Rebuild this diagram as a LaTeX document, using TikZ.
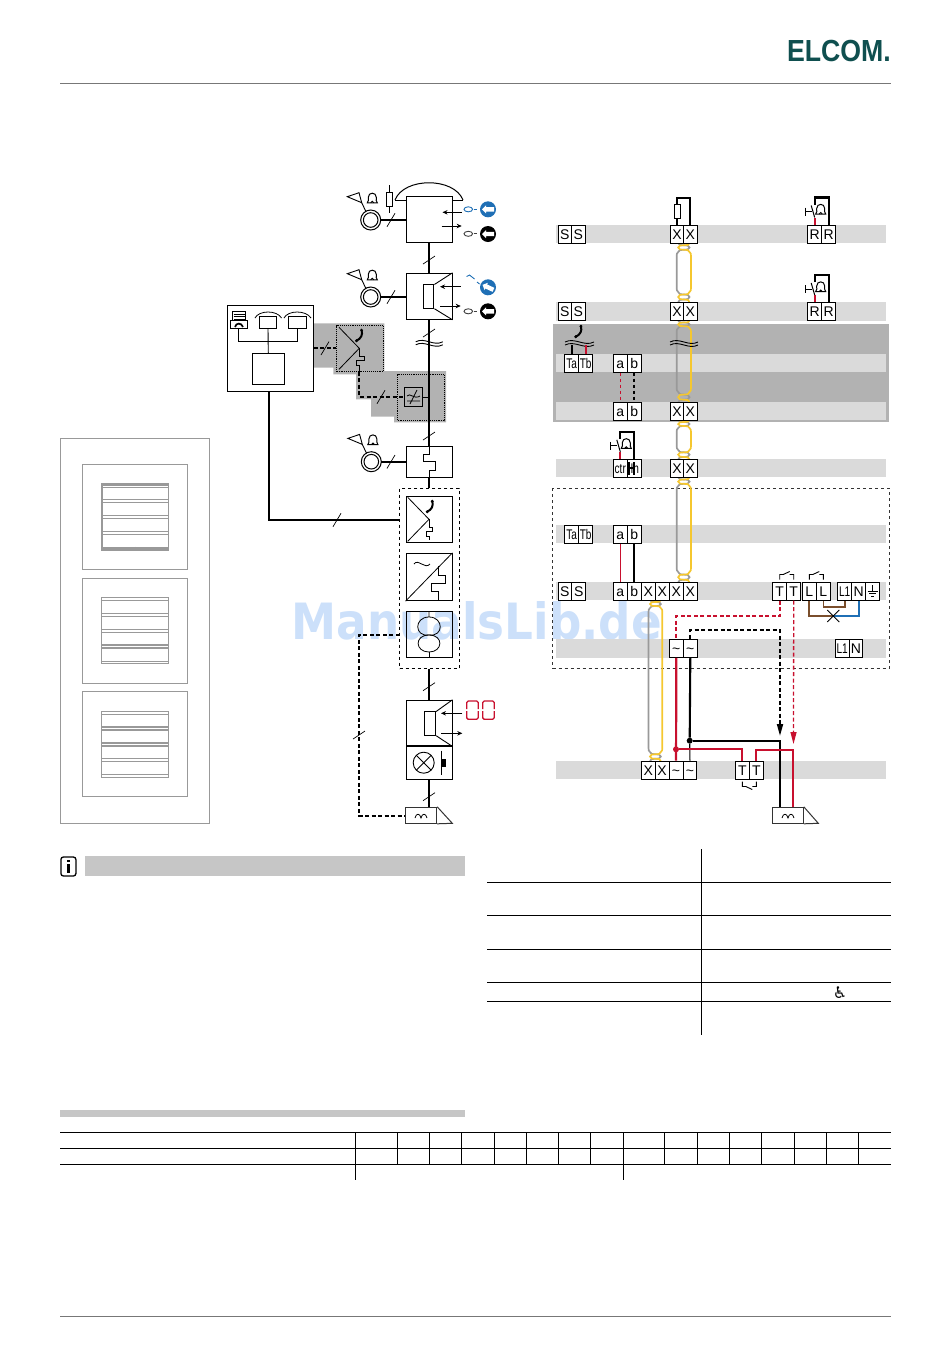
\documentclass[tikz,border=0pt]{standalone}
\usepackage{fontspec}
\setmainfont{Liberation Sans}
\newfontfamily\symfont{DejaVu Sans}
\usetikzlibrary{arrows.meta,calc}
\definecolor{band}{HTML}{DADADA}
\definecolor{dark}{HTML}{B2B2B2}
\definecolor{hdr}{HTML}{C6C6C6}
\definecolor{wred}{HTML}{C8102E}
\definecolor{wblue}{HTML}{1F6FB5}
\definecolor{wbrown}{HTML}{7A4E2C}
\definecolor{cyel}{HTML}{F5C72F}
\definecolor{cgray}{HTML}{999999}
\definecolor{teal}{HTML}{0F4F4F}
\definecolor{wm}{HTML}{CCE0FA}
\definecolor{pan}{HTML}{999999}
\definecolor{rule}{HTML}{777777}
\tikzset{
 x=1pt,y=-1pt,
 term/.style={draw=black,fill=white,line width=1,inner sep=0,minimum height=18,text height=10,text depth=0,font=\fontsize{14}{14}\selectfont},
 blk/.style={draw=black,fill=white,line width=1,inner sep=0,minimum width=46,minimum height=46},
 wire/.style={line width=2.1,black},
 thinw/.style={line width=.9,black},
 dashw/.style={line width=2,black,dash pattern=on 4pt off 2.5pt},
 thinarr/.style={line width=.9,-{Stealth[length=5,width=4.5]}},
 dotb/.style={draw=black,densely dotted,line width=.9,inner sep=0,fill=none},
 cross/.style={circle,fill=#1,inner sep=0,minimum size=6},
 pics/bell/.style={code={
   \draw[line width=1,fill=white] (-5,4.5) .. controls (-3.5,3.5) and (-4,1) .. (-4,-1) .. controls (-4,-6.5) and (4,-6.5) .. (4,-1) .. controls (4,1) and (3.5,3.5) .. (5,4.5) -- cycle;
   \draw[line width=.9] (-1.5,4.5) arc[start angle=180,end angle=360,radius=1.5];
 }},
 pics/phone/.style={code={
   \draw[line width=2,line cap=round] (1.6,-5.5) .. controls (3,-1) and (1,3) .. (-3.5,5);
   \fill (1.6,-5.5) circle (1.6);\fill (-3.5,5) circle (1.6);
 }},
 pics/ringhorn/.style={code={
   \draw[line width=1] (0,0) circle (10);
   \draw[line width=1] (0,0) circle (7.3);
   \draw[line width=.9] (-23.4,-23.3) -- (-11.7,-27.3) -- (-9,-17.3) -- cycle;
   \draw[line width=.9] (-9,-17.3) -- (-4.7,-8.3);
   \pic at (1.6,-21.7) {bell};
 }},
 pics/btn/.style={code={
   \fill[#1] (0,0) circle (8);
   \fill[white] (-6,0) -- (-2,-4) -- (-2,-2.2) -- (6,-2.2) -- (6,2.2) -- (-2,2.2) -- (-2,4) -- cycle;
 }},
 pics/bellsw/.style={code={
   \draw[line width=2,wred] (0,0) -- (0,-7);
   \draw[line width=1,black] (0,-7) -- (-3.5,-19);
   \draw[line width=1,black] (-9.5,-17) -- (-9.5,-9) (-9.5,-13) -- (-3,-13);
   \pic at (6,-15) {bell};
 }},
}
\newcommand{\trow}[5]{\foreach \tlab [count=\nn] in {#5} {\node[term,minimum width=#4] (#1\nn) at ({#2+(\nn-.5)*#4},#3) {\tlab};}}
\newcommand{\cnd}[1]{\scalebox{.72}[1]{#1}}
\newcommand{\slv}[2]{\draw[line width=.7] (#1-6,#2+4) -- (#1+6,#2-4);}
\newcommand{\slh}[2]{\draw[line width=.7] (#1-4,#2+6.7) -- (#1+4,#2-6.7);}
\newcommand{\wavy}[3]{\draw[line width=.9] (#1,#3-1.5) .. controls ({#1+(#2-#1)/3},#3-6.5) and ({#1+2*(#2-#1)/3},#3+3.5) .. (#2,#3-1.5);
 \draw[line width=.9] (#1,#3+1.5) .. controls ({#1+(#2-#1)/3},#3-3.5) and ({#1+2*(#2-#1)/3},#3+6.5) .. (#2,#3+1.5);}
\newcommand{\twist}[4]{\pgfmathsetmacro{\ymid}{(#3+#4)/2}
 \draw[line width=1.7,cgray] (#1,#3) .. controls (#1,\ymid) and (#2,#3) .. (#2,\ymid) .. controls (#2,#4) and (#1,\ymid) .. (#1,#4);
 \draw[line width=1.7,cyel] (#2,#3) .. controls (#2,\ymid) and (#1,#3) .. (#1,\ymid) .. controls (#1,#4) and (#2,\ymid) .. (#2,#4);}
\newcommand{\cable}[6]{\pgfmathsetmacro{\xli}{#1+1.5}\pgfmathsetmacro{\xri}{#2-1.5}
 \twist{\xli}{\xri}{#4}{#3}\twist{\xli}{\xri}{#5}{#6}
 \draw[line width=1.7,cgray] (\xli,#4) .. controls (#1,#4+1) and (#1,#4+2) .. (#1,#4+5) -- (#1,#5-5) .. controls (#1,#5-2) and (#1,#5-1) .. (\xli,#5);
 \draw[line width=1.7,cyel] (\xri,#4) .. controls (#2,#4+1) and (#2,#4+2) .. (#2,#4+5) -- (#2,#5-5) .. controls (#2,#5-2) and (#2,#5-1) .. (\xri,#5);}
\newcommand{\brk}[4]{\draw[line width=.9] (#1,#3) -- (#1,#3+#4*5) -- (#1+4,#3+#4*5) (#1+3.5,#3+#4*5) -- (#1+10,#3+#4*8) (#1+10,#3+#4*5) -- (#2,#3+#4*5) -- (#2,#3);}
\newcommand{\fade}[2]{\node[draw=pan,line width=1,fill=none,minimum width=105,minimum height=105,inner sep=0] (#1) at (134.8,#2) {};}
\begin{document}
\begin{tikzpicture}
\useasboundingbox (0,0) rectangle (950,1353);
% --- header/footer
\node[anchor=base east,inner sep=0,text=teal,font=\bfseries\fontsize{30.5}{31}\selectfont] (logo) at (891,61) {\scalebox{.875}[1]{ELCOM.}};
\draw[rule,line width=1] (60,83.5) -- (891,83.5);
\draw[rule,line width=1] (60,1316.5) -- (891,1316.5);
% --- watermark
\node[anchor=base west,inner sep=0,text=wm,font=\symfont\bfseries\fontsize{50}{50}\selectfont] (wmark) at (291.5,639) {\scalebox{.905}[1]{ManualsLib.de}};
% --- left panels
\node[draw=pan,line width=1,fill=none,minimum width=149.4,minimum height=384.6,inner sep=0] (frame) at (135,631) {};
\fade{p1}{516.8}\fade{p2}{630.8}\fade{p3}{743.8}
\node[draw=pan,line width=1.6,minimum width=66.6,minimum height=66.3,inner sep=0] (q1) at (135,516.8) {};
\node[draw=pan,line width=1,minimum width=66.6,minimum height=65.6,inner sep=0] (q2) at (135,630.5) {};
\node[draw=pan,line width=1,minimum width=66.6,minimum height=66.4,inner sep=0] (q3) at (135,744.5) {};
\foreach \yy in {487,499.3,502.3,515.3,518.3,531.7,534.3} \draw[pan,line width=1] (101.7,\yy) -- (168.3,\yy);
\foreach \yy in {485,548.5} \draw[pan,line width=2.2] (101.7,\yy) -- (168.3,\yy);
\foreach \yy in {600.3,613.7,616.3,629.7,632.3} \draw[pan,line width=1] (101.7,\yy) -- (168.3,\yy);
\foreach \yy in {645,648.3,661.5} \draw[pan,line width=1.8] (101.7,\yy) -- (168.3,\yy);
\foreach \yy in {714,758.7,761.3,774.7} \draw[pan,line width=1] (101.7,\yy) -- (168.3,\yy);
\foreach \yy in {726.7,730,742.7,746} \draw[pan,line width=1.8] (101.7,\yy) -- (168.3,\yy);
\draw[pan,line width=1] (135,546.5) -- (135,548);
% --- grey zone, left diagram
\fill[dark] (314,323.3) -- (384.3,323.3) -- (384.3,371) -- (446,371) -- (446,422.3) -- (394,422.3) -- (394,416.7) -- (371,416.7) -- (371,399.3) -- (356,399.3) -- (356,374.3) -- (333.3,374.3) -- (333.3,367.7) -- (314,367.7) -- cycle;
\node[dotb,minimum width=46.6,minimum height=46] (dA) at (360,348.7) {};
\node[dotb,minimum width=46.3,minimum height=46.7] (dB) at (420.8,397.4) {};
% --- left diagram boxes
\node[blk] (boxA) at (429,219.3) {};
\node[blk] (boxB) at (429,296.3) {};
\node[blk,minimum height=31] (boxD) at (429,461.8) {};
\node[draw=black,dashed,line width=1,inner sep=0,minimum width=59.6,minimum height=180.4] (dbox) at (429.5,578.5) {};
\node[blk] (boxE) at (429,519.3) {};
\node[blk,minimum height=47.4] (boxF) at (429,577) {};
\node[blk,fill=none] (boxG) at (429,634.5) {};
\node[blk,minimum height=45.7] (boxH) at (429,723.1) {};
\node[blk,minimum height=33.3] (boxI) at (429,762.7) {};
\node[draw=black!80,line width=1,fill=white,inner sep=0,minimum width=31,minimum height=16] (panL) at (421.2,815.3) {};
\draw[line width=1,black!80] (panL.north east) -- (452.3,823.3) -- (panL.south east);
\draw[line width=.8] (415,818) .. controls (416,813) and (420,813) .. (421,818) .. controls (422,813) and (426,813) .. (427,818);
\node[blk,minimum width=86,minimum height=85.6] (boxC) at (270.3,348.5) {};
\node[draw=black,line width=1,inner sep=0,minimum width=32,minimum height=31] (boxC0) at (268.3,368.8) {};
\node[draw=black,line width=1,inner sep=0,minimum width=17.4,minimum height=11.6] (boxC1) at (268,322.5) {};
\node[draw=black,line width=1,inner sep=0,minimum width=18.4,minimum height=11.6] (boxC2) at (297.5,322.5) {};
\node[draw=black,line width=1,inner sep=0,fill=white,minimum width=13.4,minimum height=9] (faxp) at (239,316.2) {};
\node[draw=black,line width=1,inner sep=0,fill=white,minimum width=17.7,minimum height=7.6] (faxb) at (238.9,324.5) {};
\draw[line width=.7] (233.5,314) -- (244.5,314) (233.5,316.5) -- (244.5,316.5) (233.5,319) -- (244.5,319);
\draw[line width=1.7] (235,327) .. controls (236,322.5) and (241.5,322.5) .. (243,327);
\draw[line width=.8] (255,318) .. controls (259,310) and (277,310) .. (281.5,318) (284,318) .. controls (288,310) and (306,310) .. (311,318);
\draw[line width=.9] (faxb.south) -- ++(0,12.5) -| (boxC2.south);
\draw[line width=.9] (boxC1.south) -- (boxC0.north);
\coordinate (cbot) at (269,391.3);
\coordinate (cE) at (399.7,520);
\draw[wire] (cbot) |- (cE);
\slh{337}{520}
% spine
\draw[wire] (boxA.south) -- (boxB.north);
\draw[wire] (boxB.south) -- (boxD.north);
\draw[wire] (boxD.south) -- (dbox.north -| boxD.south);
\draw[wire] (dbox.south -| boxH.north) -- (boxH.north);
\draw[wire] (boxI.south) -- (boxI.south |- panL.north);
\slv{429}{260}\slv{429}{333}\slv{429}{436}\slv{429}{686.7}\slv{429}{796.7}
\wavy{415.7}{442.7}{343.3}
% box A details
\node[draw=black,line width=.9,fill=white,inner sep=0,minimum width=6,minimum height=14.4] (resA) at (389.3,199.5) {};
\coordinate (resT) at (389.3,185);\coordinate (resB) at (389.3,213);
\draw[line width=.9] (resT) -- (resA.north) (resA.south) -- (resB);
\draw[line width=1] (395,200) .. controls (404,177) and (454,177) .. (463,200);
\draw[line width=1] (395,200) -- (boxA.west |- 0,200) (boxA.east |- 0,200) -- (463,200);
\draw[thinarr] (461.7,212.3) -- (442.5,212.3);
\draw[thinarr] (441.7,226) -- (461.7,226);
% rings
\pic at (370.7,220) {ringhorn};
\pic at (370.7,297) {ringhorn};
\pic at (371.3,461.7) {ringhorn};
\draw[wire] (380.7,220) -- (boxA.west |- 0,220);
\draw[wire] (380.7,297) -- (boxB.west |- 0,297);
\draw[wire] (381.3,461.7) -- (boxD.west |- 0,461.7);
\slh{391}{220}\slh{391}{297}\slh{391}{461.7}
% buttons
\pic at (488,209.3) {btn=wblue};
\pic at (488,234) {btn=black};
\pic[rotate=-25] at (488,287.3) {btn=wblue};
\pic at (488,311.3) {btn=black};
\draw[wblue,line width=.9] (468.3,209.3) ellipse (4.3 and 2.5);
\draw[black!75,line width=.9] (468.3,233.8) ellipse (4.3 and 2.5);
\draw[black!75,line width=.9] (468.3,311.3) ellipse (4.3 and 2.5);
\draw[wblue,line width=.9] (473.5,209.3) -- (477,209.3);
\draw[black!75,line width=.9] (473.5,233.8) -- (477,233.8) (473.5,311.3) -- (477,311.3);
\draw[wblue,line width=.9] (466.5,276.5) -- (469.5,275) -- (474.5,279) (477,282) -- (479.5,284);
% box B speaker
\node[draw=black,line width=1,inner sep=0,minimum width=10.7,minimum height=23.3] (spkB) at (428.6,296.6) {};
\draw[line width=.9] (spkB.north east) -- (boxB.north east) (spkB.south east) -- (boxB.south east);
\draw[thinarr] (460.7,286.7) -- (440,286.7);
\draw[thinarr] (440,306) -- (460.7,306);
% telephone A + B
\draw[line width=.8] (339,327.3) -- (359.3,348.3) -- (339,369.3);
\pic at (360,335.7) {phone};
\draw[line width=.8] (359.3,348.3) -- (359.3,356) -- (364,356) -- (364,360) -- (356.7,360) -- (356.7,365) -- (359.3,365) -- (359.3,371.7);
\coordinate (sA) at (359.3,371.7);
\node[draw=black,line width=1.1,fill=none,inner sep=0,minimum width=18.4,minimum height=19.4] (cvt) at (413.5,397) {};
\draw[line width=.8] (407,396) .. controls (410,392) and (414,400) .. (420,396) (407,401) -- (420,401) (410,404) -- (417,390);
\draw[line width=.9] (cvt.east) -- (429,397);
\draw[dashw] (boxC.east |- 0,348.3) -- (dA.west |- 0,348.3);
\draw[dashw] (sA) |- (cvt.west);
\slh{325}{348.3}\slh{381}{397}
% box D staircase
\draw[line width=.9] (boxD.north) -- (429,454) -- (423.3,454) -- (423.3,461.7) -- (435.7,461.7) -- (435.7,470) -- (429,470) -- (boxD.south);
% box E
\draw[line width=.8] (407.7,497.3) -- (429,519.3) -- (407.7,541.3);
\pic at (430.7,506.7) {phone};
\draw[line width=.8] (429,519.3) -- (429,527.5) -- (432.3,527.5) -- (432.3,531.7) -- (426.7,531.7) -- (426.7,536) -- (429.3,536) -- (429.3,540);
% box F
\draw[line width=.8] (boxF.south west) -- (boxF.north east);
\draw[line width=.8] (414,564) .. controls (418,558) and (425,570) .. (430,564);
\draw[line width=.9] (438.3,566) -- (438.3,575) -- (445.7,575) -- (445.7,583.3) -- (431.7,583.3) -- (431.7,591.7) -- (438.3,591.7) -- (boxF.south -| 438.3,0);
% box G
\draw[line width=.8] (boxG.north) -- (429,617) (429,617) .. controls (414,617) and (414,637) .. (429,635) .. controls (444,637) and (444,617) .. (429,617);
\draw[line width=.8] (429,635) .. controls (414,635) and (415,652) .. (429,652) .. controls (443,652) and (444,635) .. (429,635);
\draw[line width=.8] (429,652) -- (boxG.south);
\coordinate (gL) at (399.7,635);\coordinate (pL) at (359,815.7);
\draw[dashw] (gL) -| (pL) -- (panL.west |- pL);
\slv{359}{735}
% box H/I
\node[draw=black,line width=1,inner sep=0,minimum width=11.4,minimum height=23.3] (spkH) at (430,723.6) {};
\draw[line width=.9] (spkH.north east) -- (boxH.north east) (spkH.south east) -- (boxH.south east);
\draw[thinarr] (462.3,713.3) -- (441,713.3);
\draw[thinarr] (441,733.3) -- (462.3,733.3);
\foreach \xx in {466.7,482.7} {
 \draw[wred,line width=1.3,rounded corners=1.5] (\xx,709) -- (\xx,701) -- (\xx+11.5,701) -- (\xx+11.5,709);
 \draw[wred,line width=1.3,rounded corners=1.5] (\xx,711) -- (\xx,719.3) -- (\xx+11.5,719.3) -- (\xx+11.5,711);}
\draw[line width=.9] (423.7,762.7) circle (10.5);
\draw[line width=.9] (416.3,755.3) -- (431.1,770.1) (416.3,770.1) -- (431.1,755.3);
\draw[line width=.9] (441.7,750.7) -- (441.7,775);
\fill (441.7,759) rectangle (446,766.7);
% --- right diagram: bands
\fill[dark] (552.7,324) rectangle (889.3,422.3);
\foreach \ya/\yb in {225/243,302/320.7,354/371.7,402.3/420,459.3/477.3,525.3/542.7,582.3/600,639/657.7,761/778.7}
  \fill[band] (555.5,\ya) rectangle (886,\yb);
\draw[black!80,dashed,line width=.9] (552.7,488.3) rectangle (889.3,668.3);
% cables
\cable{676.7}{691}{243}{252}{292}{302}
\cable{676.7}{691}{320.7}{328}{392}{402.3}
\cable{676.7}{691}{420}{428}{450}{459.3}
\cable{676.7}{691}{477.3}{486}{572}{582.3}
\cable{648.5}{662.3}{600}{608}{752}{761}
\wavy{670}{698}{343.5}
\wavy{565}{594}{343.5}
\pic at (579.3,331.7) {phone};
% --- terminals
\trow{aS}{558}{234}{13.6}{S,S}
\trow{aX}{670.3}{234}{13.4}{X,X}
\trow{aR}{807.7}{234}{14}{R,R}
\trow{bS}{558}{311.5}{13.6}{S,S}
\trow{bX}{670.3}{311.5}{13.4}{X,X}
\trow{bR}{807.7}{311.5}{14}{R,R}
\trow{cT}{564.7}{363.2}{14}{\cnd{Ta},\cnd{Tb}}
\trow{cA}{613.3}{363.2}{14}{a,b}
\trow{dA}{613.3}{411.2}{14}{a,b}
\trow{dX}{670.3}{411.2}{13.4}{X,X}
\trow{eC}{613.3}{468.3}{14}{\cnd{ctr},\hspace{.8pt}\cnd{In}}
\trow{eX}{670.3}{468.3}{13.4}{X,X}
\trow{fT}{564.7}{534}{14}{\cnd{Ta},\cnd{Tb}}
\trow{fA}{613.3}{534}{14}{a,b}
\trow{gS}{558}{591}{13.8}{S,S}
\trow{gA}{613.3}{591}{14}{a,b,X,X,X,X}
\trow{gT}{772.7}{591}{14}{T,T}
\trow{gL}{802.3}{591}{14}{L,L}
\trow{gN}{837.7}{591}{14}{\cnd{L1},N,{}}
\trow{hU}{669.3}{648.3}{14}{\textasciitilde,\textasciitilde}
\trow{hL}{835.3}{648.3}{13.7}{\cnd{L1},N}
\trow{iX}{641.3}{770}{13.9}{X,X,\textasciitilde,\textasciitilde}
\trow{iT}{735.3}{770}{14}{T,T}
% earth symbol
\draw[line width=.9] (gN3.center) ++(0,-6) -- ++(0,6) (gN3.center) ++(-5,0) -- ++(10,0) (gN3.center) ++(-3.3,2.5) -- ++(6.6,0) (gN3.center) ++(-1.6,5) -- ++(3.2,0);
% wires above terminals
\node[draw=black,line width=.9,fill=white,inner sep=0,minimum width=6,minimum height=14] (resX) at (677,211) {};
\draw[wire] (aX1.north) -- (resX.south);
\draw[wire] (resX.north) -- (677,198) -| (aX2.north);
\pic at (aR1.north) {bellsw};
\pic at (bR1.north) {bellsw};
\pic at (eC1.north) {bellsw};
\draw[wire] (aR1.north) ++(0,-20) -- ++(0,-7) -| (aR2.north);
\draw[wire] (bR1.north) ++(0,-20) -- ++(0,-7) -| (bR2.north);
\draw[wire] (eC1.north) ++(0,-20) -- ++(0,-7) -| (eC2.north);
\draw[line width=1.7] (eC1.north east) ++(1,3) -- ++(0,13) (eC1.north east) ++(6,3) -- ++(0,13) (eC1.east) ++(1,0) -- ++(5,0);
\draw[wire] (cT1.north) -- (571.7,345);
\draw[wred,line width=2] (cT2.north) -- (585.7,345);
\draw[wred,line width=1.3,dashed] (cA1.south) -- (dA1.north);
\draw[line width=1.7,dashed] (cA2.south) -- (dA2.north);
\draw[wred,line width=1.2] (fA1.south) -- (gA1.north);
\draw[wire] (fA2.south) -- (gA2.north);
\brk{779.7}{793.7}{579.5}{-1}
\brk{809.3}{823.3}{579.5}{-1}
\brk{742.3}{756.3}{781.5}{1}
% mains wiring
\coordinate (crs) at (833.3,616);
\draw[wbrown,line width=2] (gL1.south) |- (crs);
\draw[wblue,line width=2] (crs) -| (gN2.south);
\draw[wbrown,line width=1.6] (gL2.south) -- (gL2.south |- 0,606.7) -| (gN1.south);
\draw[line width=.9] (827.3,610) -- (839.3,622) (827.3,622) -- (839.3,610);
% dashed connections
\coordinate (arrK) at (780,736);\coordinate (arrR) at (793.5,744);
\draw[wred,line width=1.8,dash pattern=on 4pt off 2.5pt] (gT1.south) -- (gT1.south |- 0,616) -| (hU1.north);
\draw[line width=1.8,dash pattern=on 4pt off 2.5pt,-{Triangle[length=12,width=6]}] (hU2.north) -- (hU2.north |- 0,630) -| (arrK);
\draw[wred,line width=1.3,dash pattern=on 4pt off 2.5pt,-{Triangle[length=12,width=6]}] (gT2.south) -- (arrR);
% solid connections
\node[cross=wred] (dr) at (676,749.3) {};
\node[cross=black] (dk) at (689.7,740.7) {};
\draw[wred,line width=2.2] (hU1.south) -- (iX3.north);
\draw[wire] (hU2.south) -- (dk);
\draw[line width=1.1] (dk) -- (iX4.north);
\node[draw=black!80,line width=1,fill=white,inner sep=0,minimum width=31,minimum height=16] (panR) at (787.8,815.3) {};
\draw[line width=1,black!80] (panR.north east) -- (818.3,823.3) -- (panR.south east);
\draw[line width=.8] (782,818) .. controls (783,813) and (787,813) .. (788,818) .. controls (789,813) and (793,813) .. (794,818);
\draw[wire] (dk) -| (panR.north -| 780,0);
\draw[wred,line width=2.2] (dr) -| (iT1.north);
\draw[wred,line width=2.2] (iT2.north) |- (792.7,750) -- (panR.north -| 792.7,0);
% --- lower part
\node[draw=black,line width=1.3,rounded corners=2.5,inner sep=0,minimum width=15,minimum height=19] (info) at (68.4,866.5) {};
\fill (67,860) rectangle (69.8,862.2);
\fill (67,864) rectangle (69.8,873);
\fill[hdr] (85.3,856) rectangle (464.5,876);
\fill[hdr] (60,1110) rectangle (464.5,1117);
\draw[line width=1] (701.6,849) -- (701.6,1035);
\foreach \yy in {882.3,915.3,949.3,982.3,1001.3} \draw[line width=1] (487,\yy) -- (891,\yy);
\node[inner sep=0,font=\symfont\fontsize{16}{16}\selectfont] (wheel) at (840,993) {♿};
\foreach \yy in {1132,1148.3,1164.3} \draw[line width=1] (60,\yy) -- (891,\yy);
\foreach \xx in {355.5,623.4} \draw[line width=.9] (\xx,1132) -- (\xx,1180);
\foreach \xx in {397.4,429.4,461.4,494.4,526.4,558.4,590.4,664.6,697.1,729,761,794.2,826.1,858.1} \draw[line width=.8] (\xx,1132) -- (\xx,1164.3);
\end{tikzpicture}
\end{document}
